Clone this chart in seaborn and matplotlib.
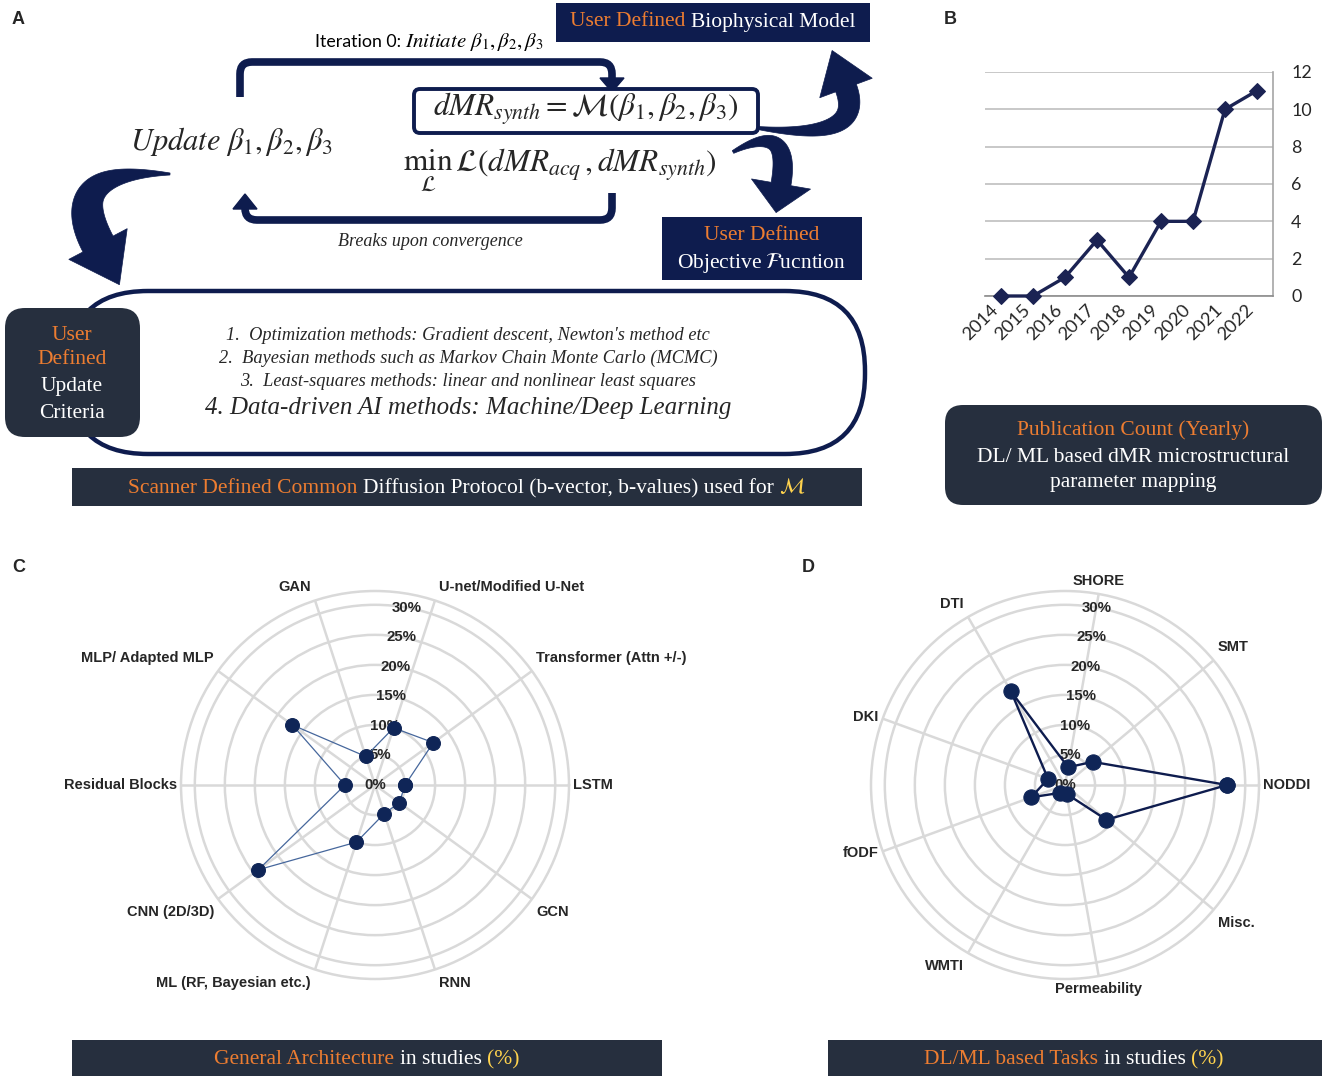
import matplotlib
matplotlib.use("Agg")
import numpy as np
import pandas as pd
import matplotlib.pyplot as plt
import seaborn as sns
from matplotlib.patches import FancyBboxPatch, PathPatch, Polygon, Rectangle
from matplotlib.path import Path

# ---------------- data ----------------
years = ["2014", "2015", "2016", "2017", "2018", "2019", "2020", "2021", "2022"]
pub_counts = [0, 0, 1, 3, 1, 4, 4, 10, 11]

arch_labels = ["LSTM", "Transformer (Attn +/-)", "U-net/Modified U-Net", "GAN",
               "MLP/ Adapted MLP", "Residual Blocks", "CNN (2D/3D)",
               "ML (RF, Bayesian etc.)", "RNN", "GCN"]
arch_values = [5, 12, 10, 5, 17, 5, 24, 10, 5, 5]

task_labels = ["NODDI", "SMT", "SHORE", "DTI", "DKI", "fODF", "WMTI",
               "Permeability", "Misc."]
task_values = [27, 6, 3, 18, 3, 6, 1.5, 1.5, 9]

radial_ticks = [0, 5, 10, 15, 20, 25, 30]
count_ticks = [0, 2, 4, 6, 8, 10, 12]

method_lines = [
    "1.  Optimization methods: Gradient descent, Newton's method etc",
    "2.  Bayesian methods such as Markov Chain Monte Carlo (MCMC)",
    "3.  Least-squares methods: linear and nonlinear least squares",
]
method_line4 = "4. Data-driven AI methods: Machine/Deep Learning"

# ---------------- style ----------------
sns.set_theme(style="white")
plt.rcParams["font.family"] = ["Liberation Sans", "DejaVu Sans"]
plt.rcParams["mathtext.fontset"] = "stix"

NAVY = "#0e1c4e"
SLATE = "#262f3e"
ORANGE = "#ED7D31"
YELLOW = "#FFD34E"
DOT = "#0f2557"
GRID = "#d9d9d9"
SERIF = "Liberation Serif"

W, H = 1326, 1081
fig = plt.figure(figsize=(W / 100, H / 100), dpi=100)
axbg = fig.add_axes([0, 0, 1, 1])
axbg.set_xlim(0, W)
axbg.set_ylim(H, 0)
axbg.axis("off")
renderer = fig.canvas.get_renderer()


def text_width(s, **kw):
    t = axbg.text(0, 0, s, **kw)
    w = t.get_window_extent(renderer).width
    t.remove()
    return w


def multicolor(xc, y, pieces, va="center"):
    widths = [text_width(p, **kw) for p, kw in pieces]
    kw0 = pieces[0][1]
    sp = text_width("a a", fontsize=kw0.get("fontsize"), family=kw0.get("family")) - \
        text_width("aa", fontsize=kw0.get("fontsize"), family=kw0.get("family"))
    total = sum(widths) + sp * (len(pieces) - 1)
    x = xc - total / 2
    for (p, kw), w in zip(pieces, widths):
        axbg.text(x, y, p, ha="left", va=va, **kw)
        x += w + sp


def rounded_path(pts, r):
    verts = [pts[0]]
    codes = [Path.MOVETO]
    for i in range(1, len(pts) - 1):
        p0, p1, p2 = (np.array(pts[i - 1], float), np.array(pts[i], float),
                      np.array(pts[i + 1], float))
        d1 = (p1 - p0) / np.linalg.norm(p1 - p0)
        d2 = (p2 - p1) / np.linalg.norm(p2 - p1)
        a = p1 - d1 * r
        b = p1 + d2 * r
        verts += [tuple(a), tuple(p1), tuple(b)]
        codes += [Path.LINETO, Path.CURVE3, Path.CURVE3]
    verts.append(pts[-1])
    codes.append(Path.LINETO)
    return Path(verts, codes)


def crescent(p0, c, p1, w0, w1, head_w, head_len, color=NAVY):
    p0, c, p1 = (np.array(p0, float), np.array(c, float), np.array(p1, float))
    t = np.linspace(0, 1, 60)[:, None]
    pts = (1 - t) ** 2 * p0 + 2 * (1 - t) * t * c + t ** 2 * p1
    tan = 2 * (1 - t) * (c - p0) + 2 * t * (p1 - c)
    tan = tan / np.linalg.norm(tan, axis=1, keepdims=True)
    nrm = np.column_stack([-tan[:, 1], tan[:, 0]])
    w = (w0 + (w1 - w0) * np.sin(np.pi * t / 2)) / 2
    left = pts + nrm * w
    right = pts - nrm * w
    te, ne = tan[-1], nrm[-1]
    tip = p1 + te * head_len
    poly = np.vstack([left, p1 + ne * head_w / 2, tip, p1 - ne * head_w / 2, right[::-1]])
    axbg.add_patch(Polygon(poly, closed=True, fc=color, ec=color, lw=0.5))


# ---------------- panel letters ----------------
for lab, (x, y) in {"A": (12, 20), "B": (944, 20), "C": (12, 567), "D": (802, 567)}.items():
    axbg.text(x, y, lab, fontsize=13, fontweight="bold", ha="left", va="center")

# ---------------- panel A ----------------
serif15 = dict(fontsize=15.5, family=SERIF)
axbg.add_patch(Rectangle((556, 3), 314, 39, fc=NAVY, ec="none"))
multicolor(713, 22, [("User Defined", dict(color=ORANGE, **serif15)),
                     ("Biophysical Model", dict(color="white", **serif15))])

multicolor(429, 47, [("Iteration 0:", dict(fontsize=12.8, family="Lato", color="black")),
                     (r"$Initiate\ \beta_1, \beta_2, \beta_3$",
                      dict(fontsize=15, color="black"))], va="baseline")

# top bracket
axbg.add_patch(PathPatch(rounded_path([(240, 97), (240, 62), (612, 62), (612, 80)], 12),
                         fill=False, ec=NAVY, lw=5.5, capstyle="butt"))
axbg.add_patch(Polygon([(600, 78), (624, 78), (612, 92)], closed=True, fc=NAVY, ec=NAVY))

# equation box
axbg.add_patch(FancyBboxPatch((414, 89), 344, 44, boxstyle="round,pad=0,rounding_size=6",
                              fc="white", ec=NAVY, lw=2.8))
axbg.text(586, 110, r"$dMR_{synth} = \mathcal{M}(\beta_1, \beta_2, \beta_3)$",
          fontsize=22.5, ha="center", va="center")
axbg.text(232, 142, r"$Update\ \beta_1, \beta_2, \beta_3$", fontsize=22,
          ha="center", va="center")
axbg.text(560, 170, r"$\min_{\mathcal{L}}\,\mathcal{L}(dMR_{acq}, dMR_{synth})$",
          fontsize=22.5, ha="center", va="center")

# bottom bracket
axbg.add_patch(PathPatch(rounded_path([(612, 193), (612, 220), (245, 220), (245, 208)], 12),
                         fill=False, ec=NAVY, lw=5.5, capstyle="butt"))
axbg.add_patch(Polygon([(233, 209), (257, 209), (245, 194)], closed=True, fc=NAVY, ec=NAVY))
axbg.text(430, 241, "Breaks upon convergence", fontsize=13, family=SERIF,
          style="italic", ha="center", va="center")

# curved (crescent) arrows
crescent((758, 128), (866, 142), (846, 88), 3, 22, 56, 40)
crescent((733, 152), (792, 120), (781, 184), 3, 20, 60, 29)
crescent((170, 174), (58, 168), (98, 244), 2, 34, 66, 46)

# objective function box
axbg.add_patch(Rectangle((662, 217), 200, 63, fc=NAVY, ec="none"))
axbg.text(762, 236, "User Defined", color=ORANGE, ha="center", va="center", **serif15)
axbg.text(762, 263, r"Objective $\mathcal{F}$ucntion", color="white", ha="center",
          va="center", **serif15)

# stadium
axbg.add_patch(FancyBboxPatch((68, 291), 797, 163, boxstyle="round,pad=0,rounding_size=80",
                              fc="white", ec=NAVY, lw=3.2, zorder=0.5))
# update criteria box
axbg.add_patch(FancyBboxPatch((5, 308), 135, 129, boxstyle="round,pad=0,rounding_size=20",
                              fc=SLATE, ec="none"))
for txt, y, c in [("User", 335, ORANGE), ("Defined", 360, ORANGE),
                  ("Update", 386, "white"), ("Criteria", 413, "white")]:
    axbg.text(72, y, txt, color=c, ha="center", va="center", **serif15)

for txt, y in zip(method_lines, [336, 358, 381]):
    axbg.text(468, y, txt, fontsize=13.2, family=SERIF, style="italic",
              ha="center", va="center")
axbg.text(468, 408, method_line4, fontsize=18, family=SERIF, style="italic",
          ha="center", va="center")

# bottom bar A
axbg.add_patch(Rectangle((72, 468), 790, 38, fc=SLATE, ec="none"))
multicolor(467, 493, [("Scanner Defined Common", dict(color=ORANGE, **serif15)),
                      ("Diffusion Protocol (b-vector, b-values) used for",
                       dict(color="white", **serif15)),
                      (r"$\mathcal{M}$", dict(color=YELLOW, fontsize=15.5))], va="baseline")

# ---------------- panel B ----------------
axbg.add_patch(FancyBboxPatch((945, 405), 377, 100, boxstyle="round,pad=0,rounding_size=18",
                              fc=SLATE, ec="none"))
axbg.text(1133, 430, "Publication Count (Yearly)", color=ORANGE, ha="center", va="center", **serif15)
axbg.text(1133, 457, "DL/ ML based dMR microstructural", color="white", ha="center",
          va="center", **serif15)
axbg.text(1133, 483, "parameter mapping", color="white", ha="center", va="center", **serif15)

axB = fig.add_axes([985 / W, 1 - 296 / H, 288 / W, 224 / H])
df_pub = pd.DataFrame({"Year": years, "Count": pub_counts})
sns.lineplot(data=df_pub, x="Year", y="Count", ax=axB, color="#1b2353", lw=2.4,
             marker="D", markersize=8, markeredgecolor="#1b2353", clip_on=False,
             zorder=5)
axB.set_xlim(-0.5, len(years) - 0.5)
axB.set_ylim(0, 12)
axB.set_xlabel("")
axB.set_ylabel("")
axB.yaxis.tick_right()
axB.set_yticks(count_ticks)
axB.set_yticklabels([str(v) for v in count_ticks], family="Lato", fontsize=12.8)
axB.tick_params(axis="y", length=0, pad=13)
axB.set_xticks(range(len(years)))
axB.set_xticklabels(years, rotation=45, ha="right", va="top", family="Lato", fontsize=13.2)
axB.tick_params(axis="x", which="major", length=0, pad=4)
axB.set_xticks(np.arange(-0.5, len(years), 1), minor=True)
axB.tick_params(axis="x", which="minor", length=8, width=1.1, color="#8c8c8c",
                direction="inout")
axB.yaxis.grid(True, color="#bfbfbf", lw=1.2)
axB.xaxis.grid(False)
for s in ["left", "top"]:
    axB.spines[s].set_visible(False)
axB.spines["right"].set_color("#a6a6a6")
axB.spines["right"].set_linewidth(1.2)
axB.spines["bottom"].set_color("#8c8c8c")
axB.spines["bottom"].set_linewidth(1.2)
axB.patch.set_alpha(0)

# ---------------- radar panels ----------------
RMAX = 32.3
RPX = 194


def radar(cx, cy, labels, values, line_color, lw, ms):
    ax = fig.add_axes([(cx - RPX) / W, 1 - (cy + RPX) / H, 2 * RPX / W, 2 * RPX / H],
                      projection="polar")
    n = len(labels)
    theta = np.arange(n) * 2 * np.pi / n
    df = pd.DataFrame({"theta": np.append(theta, 2 * np.pi),
                       "value": np.append(values, values[0])})
    sns.lineplot(data=df, x="theta", y="value", ax=ax, sort=False, estimator=None,
                 color=line_color, lw=lw, marker="o", markersize=ms,
                 markerfacecolor=DOT, markeredgecolor=DOT, zorder=4, clip_on=False)
    ax.set_ylim(0, RMAX)
    ax.set_xticks(theta)
    ax.set_xticklabels([])
    ax.set_yticks(radial_ticks[1:])
    ax.set_yticklabels([])
    ax.set_xlabel("")
    ax.set_ylabel("")
    ax.grid(True, color=GRID, lw=1.8)
    ax.spines["polar"].set_color(GRID)
    ax.spines["polar"].set_linewidth(1.8)
    ax.patch.set_alpha(0)
    for v in radial_ticks:
        ax.text(np.deg2rad(80), v, f"{v}%", ha="center", va="center", fontsize=10.8,
                fontweight="bold", zorder=3)
    for th, lab in zip(theta, labels):
        c, s = np.cos(th), np.sin(th)
        if abs(c) < 0.2:
            ha, dx = "center", 0
        else:
            ha, dx = ("left", 4) if c > 0 else ("right", -4)
        dy = 13 * np.clip((abs(s) - 0.3) / 0.3, 0, 1) * np.sign(s)
        ax.annotate(lab, xy=(th, RMAX), xytext=(dx * 0.72, dy * 0.72),
                    textcoords="offset points", ha=ha, va="center", fontsize=10.5,
                    fontweight="bold", annotation_clip=False)
    return ax


radar(375, 785, arch_labels, arch_values, "#46679c", 0.9, 10)
radar(1065, 785, task_labels, task_values, NAVY, 1.7, 11)

# captions C and D
axbg.add_patch(Rectangle((72, 1040), 590, 36, fc=SLATE, ec="none"))
multicolor(367, 1064, [("General Architecture", dict(color=ORANGE, **serif15)),
                       ("in studies", dict(color="white", **serif15)),
                       ("(%)", dict(color=YELLOW, **serif15))], va="baseline")
axbg.add_patch(Rectangle((828, 1040), 494, 36, fc=SLATE, ec="none"))
multicolor(1074, 1064, [("DL/ML based Tasks", dict(color=ORANGE, **serif15)),
                        ("in studies", dict(color="white", **serif15)),
                        ("(%)", dict(color=YELLOW, **serif15))], va="baseline")

fig.savefig("out.png", dpi=100)
